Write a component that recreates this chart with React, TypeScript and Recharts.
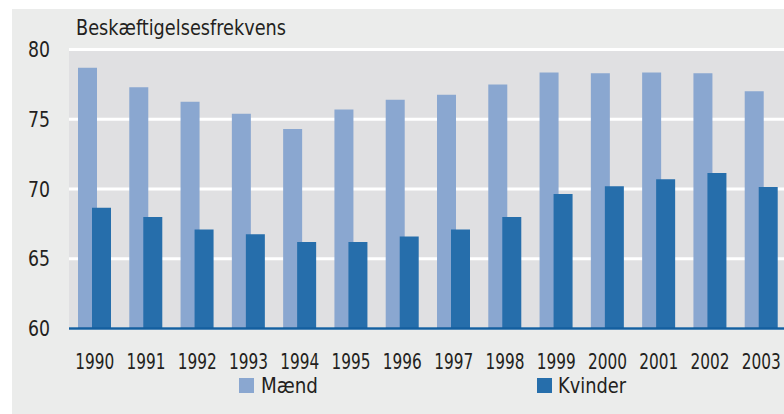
import { Bar, BarChart, CartesianGrid, XAxis, YAxis } from "recharts";

const years = ["1990", "1991", "1992", "1993", "1994", "1995", "1996", "1997", "1998", "1999", "2000", "2001", "2002", "2003"];
const maend = [78.7, 77.3, 76.25, 75.4, 74.3, 75.7, 76.4, 76.75, 77.5, 78.35, 78.3, 78.35, 78.3, 77.0];
const kvinder = [68.65, 68.0, 67.1, 66.75, 66.2, 66.2, 66.6, 67.1, 68.0, 69.65, 70.2, 70.7, 71.15, 70.15];
const yTicks = [60, 65, 70, 75, 80];

const data = years.map((year, i) => ({ year, maend: maend[i], kvinder: kvinder[i] }));

// no narrow font installed, so text is squeezed to the reference widths with textLength
const FONT = "'DejaVu Sans Condensed', 'DejaVu Sans', sans-serif";
const TEXT = "#231f20";
const LIGHT = "#8aa7d0";
const DARK = "#266eab";

function XTick({ x, y, payload }: any) {
  return (
    <text
      x={x}
      y={y}
      dy="0.72em"
      textAnchor="middle"
      fill={TEXT}
      fontSize={21}
      fontFamily={FONT}
      textLength={39}
      lengthAdjust="spacingAndGlyphs"
    >
      {payload.value}
    </text>
  );
}

function YTick({ x, y, payload }: any) {
  return (
    <text
      x={x}
      y={y}
      dy="0.36em"
      textAnchor="end"
      fill={TEXT}
      fontSize={21}
      fontFamily={FONT}
      textLength={22}
      lengthAdjust="spacingAndGlyphs"
    >
      {payload.value}
    </text>
  );
}

export default function App() {
  return (
    <div style={{ position: "fixed", left: 0, top: 0, width: 784, height: 414, background: "#fff", overflow: "hidden" }}>
      <div style={{ position: "absolute", left: 12, top: 9, width: 772, height: 405, background: "#ebeceb" }} />
      <div style={{ position: "absolute", left: 0, top: 0 }}>
        <BarChart
          width={787}
          height={414}
          data={data}
          margin={{ top: 49.5, right: 0, left: 0, bottom: 55.5 }}
          barGap={-5}
        >
          <CartesianGrid vertical={false} fill="#e0e0e2" stroke="#ffffff" strokeWidth={3} />
          <XAxis
            dataKey="year"
            height={30}
            tickLine={false}
            tickSize={0}
            tickMargin={25.5}
            axisLine={{ stroke: "#145f9f", strokeWidth: 2.5 }}
            tick={<XTick />}
            interval={0}
          />
          <YAxis
            width={69}
            domain={[60, 80]}
            ticks={yTicks}
            axisLine={false}
            tickLine={false}
            tickSize={0}
            tickMargin={19}
            tick={<YTick />}
          />
          <Bar dataKey="maend" fill={LIGHT} barSize={19} isAnimationActive={false} />
          <Bar dataKey="kvinder" fill={DARK} barSize={19} isAnimationActive={false} />
        </BarChart>
      </div>
      <svg width={784} height={414} style={{ position: "absolute", left: 0, top: 0, pointerEvents: "none" }}>
        <text x={76} y={35} fill={TEXT} fontSize={21} fontFamily={FONT} textLength={210} lengthAdjust="spacingAndGlyphs">
          Beskæftigelsesfrekvens
        </text>
        <rect x={239} y={378} width={15} height={15} fill={LIGHT} />
        <text x={261} y={393} fill={TEXT} fontSize={21} fontFamily={FONT} textLength={57} lengthAdjust="spacingAndGlyphs">
          Mænd
        </text>
        <rect x={537} y={378} width={15} height={15} fill={DARK} />
        <text x={558} y={393} fill={TEXT} fontSize={21} fontFamily={FONT} textLength={68} lengthAdjust="spacingAndGlyphs">
          Kvinder
        </text>
      </svg>
    </div>
  );
}
